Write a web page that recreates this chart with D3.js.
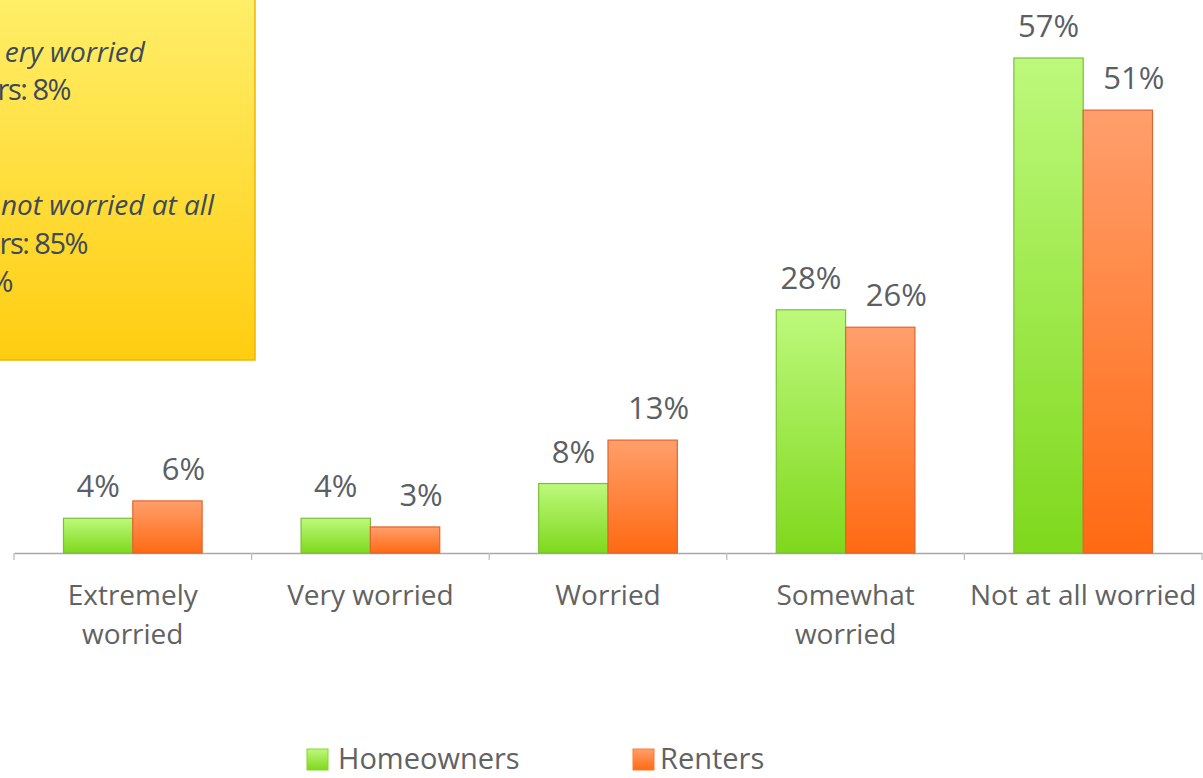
<!DOCTYPE html>
<html>
<head>
<meta charset="utf-8">
<script src="https://cdn.jsdelivr.net/npm/d3@7"></script>
<style>
  body { margin: 0; background: #fff; }
  svg { display: block; font-family: "Open Sans", sans-serif; }
</style>
</head>
<body>
<div id="chart"></div>
<script>
// chart data
const categories = [["Extremely", "worried"], ["Very worried"], ["Worried"], ["Somewhat", "worried"], ["Not at all worried"]];
const seriesNames = ["Homeowners", "Renters"];
const homeowners = [4, 4, 8, 28, 57];
const renters = [6, 3, 13, 26, 51];
const noteLines = [
    { text: "ery worried", italic: true },
    { text: "rs: 8%", italic: false },
    { text: "", italic: false },
    { text: "", italic: false },
    { text: "not worried at all", italic: true },
    { text: "rs: 85%", italic: false },
    { text: "%", italic: false }
];
const noteEnds = [145, 70, 0, 0, 214, 87, 12];

const width = 1203, height = 778;
const svg = d3.select("#chart").append("svg")
    .attr("width", width)
    .attr("height", height);

const defs = svg.append("defs");
function vGrad(id, top, bottom) {
    const g = defs.append("linearGradient").attr("id", id)
        .attr("x1", 0).attr("y1", 0).attr("x2", 0).attr("y2", 1);
    g.append("stop").attr("offset", "0%").attr("stop-color", top);
    g.append("stop").attr("offset", "100%").attr("stop-color", bottom);
}
vGrad("gGreen", "#bdf97c", "#7fd81c");
vGrad("gOrange", "#ff9f6c", "#ff6a12");
vGrad("gNote", "#fff06e", "#ffcd10");

const fills = ["url(#gGreen)", "url(#gOrange)"];
const strokes = ["#7cbf3a", "#e0652e"];
const swatch = ["#86d62c", "#ff7a30"];

const x0 = d3.scaleBand()
    .domain(d3.range(categories.length))
    .range([14, 1202])
    .paddingInner(0)
    .paddingOuter(0);

const x1 = d3.scaleBand()
    .domain(d3.range(seriesNames.length))
    .range([0, x0.bandwidth()])
    .paddingInner(0)
    .paddingOuter(0.7135);

const y = d3.scaleLinear()
    .domain([0, 57])
    .range([553, 58]);

const data = categories.map((c, i) => [homeowners[i], renters[i]]);

// axis line + ticks
const axis = d3.axisBottom(x0)
    .tickValues([])
    .tickSizeOuter(0);
const axisG = svg.append("g")
    .attr("transform", `translate(0,${y(0)})`)
    .call(axis);
axisG.select(".domain").attr("stroke", "#a8a8a8").attr("stroke-width", 1.3);
axisG.selectAll(".sep")
    .data(d3.range(categories.length + 1))
    .enter().append("line")
    .attr("x1", d => 14 + d * x0.step())
    .attr("x2", d => 14 + d * x0.step())
    .attr("y1", 0).attr("y2", 7)
    .attr("stroke", "#bdbdbd")
    .attr("stroke-width", 1.3);

// bars
const groups = svg.selectAll("g.cat")
    .data(data)
    .enter().append("g")
    .attr("class", "cat")
    .attr("transform", (d, i) => `translate(${x0(i)},0)`);

groups.selectAll("rect")
    .data(d => d)
    .enter().append("rect")
    .attr("x", (d, j) => x1(j))
    .attr("y", d => y(d))
    .attr("width", x1.bandwidth())
    .attr("height", d => y(0) - y(d))
    .attr("fill", (d, j) => fills[j])
    .attr("stroke", (d, j) => strokes[j])
    .attr("stroke-width", 1.2);

groups.selectAll("text.val")
    .data(d => d)
    .enter().append("text")
    .attr("class", "val")
    .attr("x", (d, j) => x1(j) + x1.bandwidth() / 2 + (j === 1 ? 16 : 0))
    .attr("y", d => y(d) - 21)
    .attr("text-anchor", "middle")
    .attr("fill", "#5a5f66")
    .style("font-size", "31px")
    .text(d => d + "%");

// category labels
svg.selectAll("text.cat")
    .data(categories)
    .enter().append("text")
    .attr("class", "cat")
    .attr("text-anchor", "middle")
    .attr("fill", "#626262")
    .style("font-size", "28px")
    .attr("x", (d, i) => x0(i) + x0.bandwidth() / 2)
    .attr("y", 605)
    .selectAll("tspan")
    .data(d => d)
    .enter().append("tspan")
    .attr("x", function() { return d3.select(this.parentNode).attr("x"); })
    .attr("dy", (d, k) => k === 0 ? 0 : 39)
    .text(d => d);

// legend
const legend = svg.append("g").attr("transform", "translate(307,749)");
const legendX = [0, 326];
const legendGap = [31, 27];
seriesNames.forEach((name, j) => {
    const lg = legend.append("g").attr("transform", `translate(${legendX[j]},0)`);
    lg.append("rect")
        .attr("width", 21).attr("height", 21)
        .attr("fill", fills[j])
        .attr("stroke", swatch[j]).attr("stroke-width", 1);
    lg.append("text")
        .attr("x", legendGap[j]).attr("y", 20)
        .attr("fill", "#626262")
        .style("font-size", "29px")
        .text(name);
});

// note box (cropped at the left edge)
const note = svg.append("g");
note.append("rect")
    .attr("x", -20).attr("y", -20)
    .attr("width", 275).attr("height", 380)
    .attr("fill", "url(#gNote)")
    .attr("stroke", "#f2b400")
    .attr("stroke-width", 1.5);
note.selectAll("text")
    .data(noteLines)
    .enter().append("text")
    .attr("x", (d, i) => noteEnds[i])
    .attr("y", (d, i) => 62 + i * 38.3)
    .attr("text-anchor", "end")
    .attr("fill", "#3c4a5a")
    .style("font-size", d => d.italic ? "28px" : "29px")
    .style("letter-spacing", d => d.italic ? "0px" : "-1.5px")
    .style("font-style", d => d.italic ? "italic" : "normal")
    .text(d => d.text);
</script>
</body>
</html>
